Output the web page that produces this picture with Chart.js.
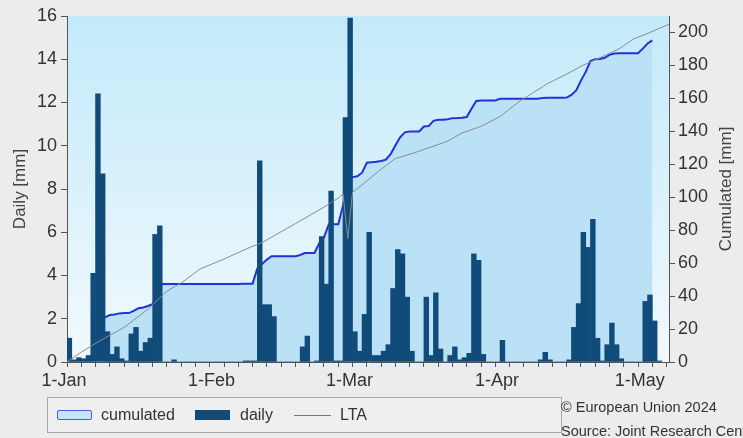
<!DOCTYPE html>
<html>
<head>
<meta charset="utf-8">
<script src="https://cdn.jsdelivr.net/npm/chart.js@4.4.1/dist/chart.umd.min.js"></script>
<style>
  html, body { margin: 0; padding: 0; background: #ececec; }
  #wrap { position: relative; width: 743px; height: 438px; overflow: hidden;
          font-family: "Liberation Sans", Arial, sans-serif; color: #333; }
  #chart { position: absolute; left: 0; top: 0; }
  .legend { position: absolute; left: 47px; top: 397px; width: 513px; height: 34px;
            border: 1px solid #a8a8a8; background: #efefef; }
  .legend span { position: absolute; top: 0; line-height: 34px; font-size: 16px; white-space: nowrap; }
  .sw { position: absolute; }
  .credit { position: absolute; left: 561px; font-size: 14.5px; white-space: nowrap; color: #333; }
</style>
</head>
<body>
<div id="wrap">
  <canvas id="chart" width="743" height="438"></canvas>
  <div class="legend">
    <div class="sw" style="left:9px; top:12px; width:33px; height:8px; background:#c4e6fb; border:1px solid #4a5ad8; border-radius:2px;"></div>
    <span style="left:53px;">cumulated</span>
    <div class="sw" style="left:147px; top:12px; width:35px; height:10px; background:#104b7a;"></div>
    <span style="left:192px;">daily</span>
    <div class="sw" style="left:246px; top:17px; width:37px; height:1px; background:#777;"></div>
    <span style="left:292px;">LTA</span>
  </div>
  <div class="credit" style="top:399px;">© European Union 2024</div>
  <div class="credit" style="top:423px;">Source: Joint Research Centre</div>
</div>
<script>
// x positions are days since 1 Jan 2024
const monthTicks = [0, 31, 60, 91, 121];
const monthLabels = ["1-Jan", "1-Feb", "1-Mar", "1-Apr", "1-May"];

// daily rain [mm], one value per day from 1 Jan
const daily = [
  1.1, 0.1, 0.2, 0.15, 0.3, 4.1, 12.4, 8.7, 1.4, 0.35,
  0.7, 0.15, 0.05, 1.3, 1.6, 0.5, 0.9, 1.1, 5.9, 6.3,
  0, 0, 0.1, 0, 0, 0, 0, 0, 0, 0,
  0, 0, 0, 0, 0, 0, 0, 0.05, 0.05, 0.05,
  9.3, 2.65, 2.65, 2.1, 0, 0, 0, 0, 0, 0.7,
  1.2, 0, 0.05, 5.8, 3.6, 7.9, 0.05, 0.05, 11.3, 15.9,
  1.4, 0.5, 2.2, 6.0, 0.3, 0.3, 0.5, 0.8, 3.4, 5.2,
  5.0, 3.0, 0.5, 0, 0, 3.0, 0.3, 3.2, 0.6, 0,
  0.3, 0.7, 0.1, 0.2, 0.4, 5.0, 4.7, 0.35, 0, 0,
  0, 1.0, 0, 0, 0, 0, 0, 0, 0, 0.1,
  0.45, 0.1, 0, 0, 0, 0.1, 1.6, 2.7, 6.0, 5.3,
  6.6, 1.1, 0.05, 0.8, 1.8, 0.8, 0.15, 0, 0, 0,
  0, 2.8, 3.1, 1.9, 0.05
];

// cumulated rain [mm], first point at day 8
const cumulatedStart = 8;
const cumulated = [
  27.1, 28.5, 28.8, 29.5, 29.7, 29.7, 31.0, 32.6, 33.1, 34.0,
  35.1, 41.0, 47.3, 47.3, 47.3, 47.4, 47.4, 47.4, 47.4, 47.4,
  47.4, 47.4, 47.4, 47.4, 47.4, 47.4, 47.4, 47.4, 47.4, 47.45,
  47.5, 47.55, 56.85, 59.5, 62.15, 64.25, 64.25, 64.25, 64.25, 64.25,
  64.25, 64.95, 66.15, 66.15, 66.2, 72.0, 75.6, 83.5, 83.55, 83.6,
  94.9, 110.8, 112.2, 112.7, 114.9, 120.9, 121.2, 121.5, 122.0, 122.8,
  126.2, 131.4, 136.4, 139.4, 139.9, 139.9, 139.9, 142.9, 143.2, 146.4,
  147.0, 147.0, 147.3, 148.0, 148.1, 148.3, 148.7, 153.7, 158.4, 158.75,
  158.75, 158.75, 158.75, 159.75, 159.75, 159.75, 159.75, 159.75, 159.75, 159.75,
  159.75, 159.85, 160.3, 160.4, 160.4, 160.4, 160.4, 160.5, 162.1, 164.8,
  170.8, 176.1, 182.7, 183.8, 183.85, 184.65, 186.45, 187.25, 187.4, 187.4,
  187.4, 187.4, 187.4, 190.2, 193.3, 195.2
];

// long term average of the cumulated rain [mm]
const ltaDays = [0, 3, 7, 12, 17, 21, 24, 28, 33, 38, 41, 48, 54, 57, 58, 59, 60, 62,
  66, 69, 73, 76, 80, 83, 87, 91, 95, 98, 101, 105, 108, 112, 116, 119, 122.5, 126.5];
const ltaValues = [0, 6, 13, 21, 32, 43, 48, 56.5, 62.5, 69, 72.5, 84, 94, 99.5, 102, 75, 103, 107.5,
  117, 123.5, 127, 130, 134, 139, 143, 149, 158, 163.5, 169, 174.7, 179.5, 184.7, 190, 196, 200, 205];

const fontFamily = '"Liberation Sans", Arial, sans-serif';
const axisColor = "#555";

const plotBackground = {
  id: "plotBackground",
  beforeDraw(chart) {
    const { ctx, chartArea: a } = chart;
    const g = ctx.createLinearGradient(0, a.top, 0, a.bottom);
    g.addColorStop(0, "#c3eafa");
    g.addColorStop(1, "#f2f9fd");
    ctx.save();
    ctx.fillStyle = g;
    ctx.fillRect(a.left, a.top, a.right - a.left, a.bottom - a.top);
    ctx.restore();
  }
};

// right axis title reads bottom to top, like the left one
const rightTitle = {
  id: "rightTitle",
  afterDraw(chart) {
    const { ctx, chartArea: a } = chart;
    ctx.save();
    ctx.translate(726, (a.top + a.bottom) / 2);
    ctx.rotate(-Math.PI / 2);
    ctx.font = "17px " + fontFamily;
    ctx.fillStyle = "#444";
    ctx.textAlign = "center";
    ctx.textBaseline = "middle";
    ctx.fillText("Cumulated [mm]", 0, 0);
    ctx.restore();
  }
};

new Chart(document.getElementById("chart"), {
  type: "bar",
  data: {
    datasets: [
      {
        type: "line",
        label: "LTA",
        data: ltaDays.map((d, i) => ({ x: d, y: ltaValues[i] })),
        yAxisID: "y2",
        borderColor: "#8c8c8c",
        borderWidth: 1,
        pointRadius: 0,
        fill: false,
        order: 0,
      },
      {
        type: "bar",
        label: "daily",
        data: daily.map((v, i) => ({ x: i + 0.5, y: v })),
        yAxisID: "y",
        backgroundColor: "#104b7a",
        borderWidth: 0,
        barPercentage: 1,
        categoryPercentage: 1,
        order: 1,
      },
      {
        type: "line",
        label: "cumulated",
        data: cumulated.map((v, i) => ({ x: cumulatedStart + i, y: v })),
        yAxisID: "y2",
        borderColor: "#2232d6",
        borderWidth: 2,
        backgroundColor: "#bbe1f7",
        fill: "origin",
        pointRadius: 0,
        order: 2,
      },
    ],
  },
  options: {
    responsive: false,
    animation: false,
    devicePixelRatio: 1,
    layout: { padding: { top: 16, bottom: 46, left: 0, right: 0 } },
    plugins: { legend: { display: false }, tooltip: { enabled: false } },
    scales: {
      x: {
        type: "linear",
        min: 0,
        max: 126.5,
        offset: false,
        afterBuildTicks: (scale) => {
          const vals = new Set(monthTicks);
          for (let d = 0; d <= 126; d += 3) vals.add(d);
          scale.ticks = [...vals].sort((a, b) => a - b).map((v) => ({ value: v }));
        },
        afterFit: (scale) => { scale.height = 30; },
        ticks: {
          autoSkip: false,
          maxRotation: 0,
          padding: 3,
          labelOffset: -3,
          color: "#333",
          font: { family: fontFamily, size: 18 },
          callback: (value) => {
            const i = monthTicks.indexOf(value);
            return i >= 0 ? monthLabels[i] : "";
          },
        },
        grid: {
          offset: false,
          drawOnChartArea: false,
          tickLength: 5,
          tickColor: (c) => (c.tick && c.tick.value % 3 === 0 ? axisColor : "rgba(0,0,0,0)"),
        },
        border: { color: axisColor },
      },
      y: {
        position: "left",
        min: 0,
        max: 16,
        afterFit: (scale) => { scale.width = 67; },
        ticks: {
          stepSize: 1,
          padding: 4,
          color: "#333",
          font: { family: fontFamily, size: 18 },
          callback: (v) => (v % 2 === 0 ? v : ""),
        },
        grid: { drawOnChartArea: false, tickLength: 6, tickColor: axisColor },
        border: { color: axisColor },
        title: {
          display: true,
          text: "Daily [mm]",
          color: "#444",
          padding: { top: 10, bottom: 0 },
          font: { family: fontFamily, size: 17 },
        },
      },
      y2: {
        position: "right",
        min: 0,
        max: 210,
        afterFit: (scale) => { scale.width = 74; },
        ticks: {
          stepSize: 10,
          padding: 3,
          color: "#333",
          font: { family: fontFamily, size: 18 },
          callback: (v) => (v % 20 === 0 ? v : ""),
        },
        grid: { drawOnChartArea: false, tickLength: 6, tickColor: axisColor },
        border: { color: axisColor },
      },
    },
  },
  plugins: [plotBackground, rightTitle],
});
</script>
</body>
</html>
